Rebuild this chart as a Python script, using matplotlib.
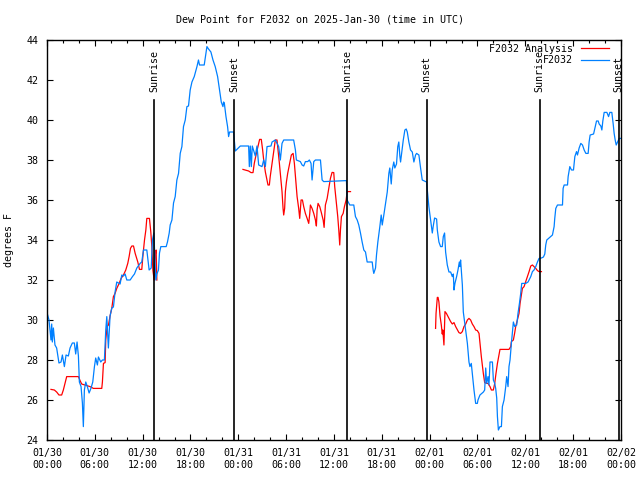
import numpy as np
import matplotlib
matplotlib.use("Agg")
import matplotlib.pyplot as plt
import matplotlib.dates as mdates
from datetime import datetime, timedelta

# hours since 2025-01-30 00:00 UTC
obs_hours = [0.08, 0.25, 0.5, 0.59, 0.67, 0.8, 1.0, 1.21, 1.5, 1.76,
             1.93, 2.18, 2.39, 2.68, 2.89, 3.18, 3.43, 3.6, 3.77, 3.94,
             4.06, 4.27, 4.44, 4.56, 4.69, 4.86, 5.06, 5.28, 5.53, 5.74,
             5.95, 6.11, 6.32, 6.45, 6.74, 6.95, 7.2, 7.37, 7.5, 7.7,
             7.91, 8.13, 8.33, 8.54, 8.75, 8.96, 9.17, 9.38, 9.59, 9.8,
             10.01, 10.43, 10.72, 10.97, 11.27, 11.68, 11.89, 12.1, 12.52, 12.81,
             13.07, 13.23, 13.4, 13.65, 13.78, 13.98, 14.11, 14.28, 14.95, 15.11,
             15.33, 15.45, 15.67, 15.87, 16.08, 16.29, 16.5, 16.71, 16.92, 17.12,
             17.34, 17.55, 17.75, 17.96, 18.18, 18.47, 18.81, 19.0, 19.13, 19.72,
             19.94, 20.06, 20.26, 20.56, 20.82, 21.1, 21.4, 21.65, 21.86, 22.07,
             22.15, 22.24, 22.45, 22.65, 22.78, 22.9, 23.4, 23.62, 24.25, 25.29,
             25.38, 25.5, 25.63, 25.75, 26.13, 26.34, 26.55, 26.97, 27.18, 27.39,
             27.6, 28.1, 28.23, 28.64, 29.06, 29.27, 29.48, 29.69, 30.94, 31.16,
             31.28, 31.78, 32.0, 32.2, 32.41, 32.7, 32.91, 33.12, 33.25, 33.46,
             33.67, 34.3, 34.51, 34.71, 37.56, 37.65, 37.98, 38.48, 38.69, 38.91,
             39.11, 39.32, 39.53, 39.74, 39.95, 40.16, 40.79, 40.91, 40.99, 41.21,
             41.33, 41.5, 41.75, 41.92, 42.05, 42.25, 42.46, 42.68, 42.88, 43.0,
             43.18, 43.3, 43.5, 43.63, 43.84, 44.0, 44.13, 44.26, 44.35, 44.56,
             44.69, 44.89, 45.06, 45.19, 45.39, 45.6, 45.82, 46.02, 46.23, 46.36,
             46.65, 46.86, 47.07, 47.61, 47.7, 47.9, 48.12, 48.33, 48.45, 48.62,
             48.87, 48.96, 49.16, 49.37, 49.58, 49.71, 49.87, 50.0, 50.21, 50.42,
             50.63, 50.84, 50.97, 51.05, 51.17, 51.38, 51.55, 51.72, 51.8, 51.88,
             52.1, 52.22, 52.51, 52.73, 52.93, 53.05, 53.22, 53.35, 53.56, 53.77,
             53.98, 54.06, 54.31, 54.74, 54.9, 55.03, 55.15, 55.32, 55.44, 55.57,
             55.87, 55.99, 56.16, 56.28, 56.41, 56.5, 56.62, 56.82, 57.0, 57.12,
             57.33, 57.54, 57.66, 57.83, 57.95, 58.08, 58.25, 58.5, 58.67, 58.92,
             59.08, 59.26, 59.42, 59.55, 60.05, 60.34, 60.68, 60.89, 61.09, 61.31,
             61.52, 61.72, 62.02, 62.27, 62.44, 62.56, 62.69, 62.98, 63.4, 63.61,
             63.69, 63.82, 64.03, 64.66, 64.74, 64.87, 65.29, 65.37, 65.58, 65.79,
             66.04, 66.21, 66.42, 66.54, 66.75, 66.96, 67.17, 67.38, 67.59, 67.88,
             68.0, 68.13, 68.56, 68.72, 68.93, 69.14, 69.26, 69.47, 69.6, 69.72,
             69.89, 70.23, 70.44, 70.6, 70.85, 71.02, 71.14, 71.27, 71.4, 71.57,
             71.77, 71.98]
obs_dewpt = [30.25, 30.0, 29.0, 29.8, 28.9, 29.6, 28.75, 28.6, 27.85, 27.9,
             28.25, 27.67, 28.25, 28.2, 28.6, 28.85, 28.85, 28.3, 28.9, 28.2,
             26.9, 26.67, 25.85, 24.67, 26.5, 26.9, 26.67, 26.35, 26.6, 26.9,
             27.67, 28.1, 27.75, 28.15, 27.9, 28.0, 28.0, 29.5, 30.17, 28.6,
             30.2, 30.6, 30.65, 31.4, 31.9, 31.85, 31.8, 32.25, 32.2, 32.3,
             32.0, 32.0, 32.17, 32.3, 32.6, 32.83, 32.9, 33.5, 33.5, 32.5,
             32.6, 34.0, 34.35, 32.0, 32.3, 32.5, 33.35, 33.67, 33.67, 33.9,
             34.35, 34.75, 35.0, 35.85, 36.17, 37.0, 37.33, 38.33, 38.67, 39.67,
             40.0, 40.67, 40.7, 41.5, 41.9, 42.17, 42.67, 43.0, 42.75, 42.75,
             43.33, 43.67, 43.55, 43.4, 43.0, 42.67, 42.17, 41.5, 40.9, 40.67,
             40.9, 40.85, 40.17, 39.67, 39.17, 39.4, 39.4, 38.45, 38.7, 38.7,
             37.67, 38.7, 37.67, 38.7, 38.2, 38.7, 37.75, 37.67, 38.0, 37.67,
             38.67, 38.7, 38.9, 39.0, 38.67, 38.0, 38.83, 39.0, 39.0, 38.5,
             38.0, 37.92, 37.75, 37.7, 37.92, 37.92, 38.0, 37.83, 37.0, 37.92,
             38.0, 38.0, 37.0, 36.92, 36.97, 36.0, 35.75, 35.75, 35.17, 35.0,
             34.75, 34.35, 33.9, 33.5, 33.4, 32.9, 32.9, 32.5, 32.33, 32.6,
             33.25, 33.9, 34.67, 35.25, 34.75, 35.25, 35.83, 36.4, 37.33, 37.6,
             36.8, 37.5, 37.9, 37.6, 37.8, 38.67, 38.9, 38.2, 37.9, 38.6,
             39.0, 39.5, 39.55, 39.4, 38.9, 38.5, 38.4, 37.9, 38.25, 38.33,
             38.25, 37.6, 37.0, 36.9, 36.5, 35.67, 35.0, 34.35, 34.7, 35.1,
             35.05, 34.5, 33.9, 33.67, 33.67, 34.17, 34.35, 33.4, 32.75, 32.4,
             32.4, 32.17, 32.3, 31.5, 31.83, 32.17, 32.5, 32.9, 32.67, 33.0,
             31.75, 30.4, 29.5, 28.83, 27.9, 27.67, 27.83, 27.33, 26.5, 25.83,
             25.83, 26.0, 26.25, 26.4, 26.5, 27.6, 26.83, 27.17, 26.75, 27.9,
             27.9, 27.0, 26.83, 26.58, 26.1, 25.17, 24.5, 24.67, 24.67, 25.67,
             26.0, 26.67, 27.17, 26.67, 27.67, 28.0, 28.83, 29.9, 29.67, 29.75,
             30.33, 30.83, 31.33, 31.83, 31.83, 31.9, 32.17, 32.42, 32.5, 32.67,
             32.9, 33.08, 33.1, 33.15, 33.3, 33.75, 34.0, 34.1, 34.25, 34.67,
             35.08, 35.58, 35.75, 35.75, 36.58, 36.75, 36.75, 37.17, 37.67, 37.5,
             37.5, 38.17, 38.42, 38.25, 38.6, 38.83, 38.75, 38.5, 38.33, 38.33,
             38.9, 39.25, 39.3, 39.58, 39.95, 39.95, 39.8, 39.7, 39.5, 39.95,
             40.38, 40.38, 40.17, 40.38, 40.38, 39.8, 39.33, 39.0, 38.75, 38.9,
             39.08, 39.08]

nan = float("nan")
ana_hours = [0.5, 0.92, 1.21, 1.5, 1.84, 2.05, 2.26, 2.47, 3.94, 4.15,
             4.35, 4.77, 5.4, 5.82, 6.87, 6.95, 7.08, 7.29, 7.37, 7.54,
             7.71, 7.91, 8.13, 8.33, 8.54, 8.75, 9.05, 9.3, 9.59, 9.88,
             10.13, 10.3, 10.47, 10.64, 10.85, 11.06, 11.39, 11.6, 11.89, 12.02,
             12.23, 12.4, 12.52, 12.85, 13.02, 13.15, 13.28, 13.44, 13.57, 13.69,
             13.78, 19.0,
             24.58, 25.29, 25.59, 25.84, 26.0, 26.26, 26.55, 26.67, 26.88, 27.05,
             27.18, 27.39, 27.6, 27.72, 27.89, 28.0, 28.23, 28.43, 28.64, 28.85,
             28.98, 29.15, 29.27, 29.48, 29.61, 29.69, 29.81, 29.9, 30.03, 30.19,
             30.44, 30.65, 30.87, 31.03, 31.2, 31.37, 31.57, 31.7, 31.87, 32.04,
             32.2, 32.41, 32.63, 32.83, 32.96, 33.04, 33.25, 33.46, 33.67, 33.79,
             33.88, 34.0, 34.21, 34.38, 34.64, 34.76, 34.92, 35.14, 35.34, 35.55,
             35.76, 35.97, 36.09, 36.31, 36.47, 36.6, 36.72, 36.81, 36.93, 37.15,
             37.31, 37.52, 37.65, 38.07, 43.0,
             48.74, 48.8, 48.96, 49.05, 49.16, 49.3, 49.46, 49.58, 49.65, 49.79,
             49.85, 49.92, 50.1, 50.42, 50.63, 50.84, 51.05, 51.26, 51.45, 51.67,
             51.88, 52.1, 52.3, 52.52, 52.73, 52.93, 53.14, 53.35, 53.56, 53.77,
             53.98, 54.19, 54.31, 54.48, 54.6, 54.73, 54.9, 55.15, 55.32, 55.44,
             55.57, 55.74, 55.99, 56.16, 56.32, 56.5, 56.7, 56.82, 57.95, 58.17,
             58.25, 58.5, 58.67, 58.79, 59.0, 59.21, 59.34, 59.5, 59.63, 59.84,
             60.05, 60.26, 60.47, 60.68, 60.89, 61.09, 61.31, 61.52, 61.72, 62.02]
ana_dewpt = [26.53, 26.5, 26.4, 26.25, 26.25, 26.5, 26.83, 27.17, 27.17, 26.97,
             26.8, 26.75, 26.67, 26.58, 26.58, 26.9, 27.83, 27.87, 29.0, 29.67,
             29.75, 30.2, 30.6, 31.17, 31.33, 31.58, 31.83, 32.08, 32.25, 32.5,
             32.83, 33.17, 33.58, 33.7, 33.7, 33.33, 32.9, 32.53, 32.53, 33.17,
             34.0, 34.5, 35.08, 35.08, 34.4, 33.67, 32.5, 32.0, 33.25, 33.5,
             32.0, nan,
             37.53, 37.45, 37.37, 37.37, 37.83, 38.33, 38.83, 39.03, 39.03, 38.5,
             38.0, 37.4, 37.0, 36.75, 36.75, 37.17, 37.83, 38.42, 39.0, 39.0,
             38.5, 37.83, 37.33, 36.42, 35.58, 35.25, 35.58, 36.42, 36.9, 37.33,
             37.83, 38.25, 38.33, 37.83, 37.0, 36.17, 35.58, 35.08, 36.0, 36.0,
             35.67, 35.33, 35.08, 34.83, 35.33, 35.75, 35.58, 35.33, 35.0, 34.7,
             35.5, 35.83, 35.67, 35.42, 35.0, 34.63, 35.75, 36.08, 36.58, 37.08,
             37.38, 37.37, 36.67, 35.83, 35.17, 34.5, 33.75, 34.5, 35.17, 35.33,
             35.67, 36.0, 36.42, 36.42, nan,
             29.58, 30.33, 31.13, 31.13, 30.9, 30.2, 29.75, 29.3, 29.5, 28.75,
             29.5, 30.42, 30.33, 30.08, 29.92, 29.8, 29.87, 29.67, 29.53, 29.37,
             29.33, 29.42, 29.67, 29.8, 30.0, 30.08, 30.0, 29.8, 29.67, 29.5,
             29.47, 29.33, 28.83, 28.17, 27.75, 27.33, 26.87, 26.83, 26.83, 26.75,
             26.67, 26.5, 26.5, 26.83, 27.33, 27.83, 28.25, 28.53, 28.53, 28.67,
             28.92, 29.0, 29.37, 29.67, 30.0, 30.33, 30.83, 31.25, 31.58, 31.67,
             31.92, 32.17, 32.42, 32.7, 32.75, 32.67, 32.58, 32.47, 32.42, 32.42]

sun_hours = [13.44, 23.49, 37.69, 47.61, 61.81, 71.73]
sun_labels = ["Sunrise", "Sunset", "Sunrise", "Sunset", "Sunrise", "Sunset"]

start = datetime(2025, 1, 30)
def to_time(hrs):
    return [start + timedelta(hours=h) for h in hrs]

plt.rcParams["font.family"] = "DejaVu Sans Mono"
plt.rcParams["font.size"] = 7.2

fig = plt.figure(figsize=(6.4, 4.8), dpi=100)
ax = fig.add_axes([47 / 640, 40 / 480, 574 / 640, 400 / 480])

ax.plot(to_time(ana_hours), ana_dewpt, color="#ff0000", lw=0.9, label="F2032 Analysis")
ax.plot(to_time(obs_hours), obs_dewpt, color="#0080ff", lw=0.9, label="F2032")

for h, lab in zip(sun_hours, sun_labels):
    t = start + timedelta(hours=h)
    ax.plot([t, t], [24, 41], color="black", lw=1.2)
    ax.text(t, 41.4, lab, rotation=90, ha="center", va="bottom")

ax.set_xlim(start, start + timedelta(hours=72))
ax.set_ylim(24, 44)
ax.set_yticks(np.arange(24, 45, 2))
ax.xaxis.set_major_locator(mdates.HourLocator(byhour=range(0, 24, 6)))
ax.xaxis.set_minor_locator(mdates.HourLocator(interval=2))
ax.xaxis.set_major_formatter(mdates.DateFormatter("%m/%d\n%H:%M"))
ax.tick_params(which="both", direction="in", top=True, right=True, width=0.8)
ax.tick_params(which="major", length=4, pad=6)
ax.tick_params(which="minor", length=2.5)
for s in ax.spines.values():
    s.set_linewidth(1.0)

ax.set_ylabel("degrees F")
ax.yaxis.set_label_coords(-0.058, 0.5)
fig.text(0.5, 1 - 20 / 480, "Dew Point for F2032 on 2025-Jan-30 (time in UTC)",
         ha="center", va="center")
ax.legend(loc="upper right", frameon=False, markerfirst=False, handlelength=2.8,
          bbox_to_anchor=(1 - 10 / 574, 1 - 2 / 400), borderaxespad=0,
          borderpad=0.2, labelspacing=0.15, handletextpad=0.8)

fig.savefig("out.png", dpi=100)
